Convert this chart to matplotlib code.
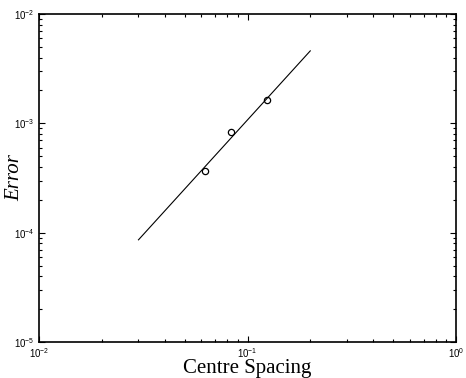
import matplotlib
matplotlib.use("Agg")
import matplotlib.pyplot as plt
import numpy as np
from matplotlib.ticker import LogLocator, FuncFormatter

# measured errors against centre spacing
SPACING = [0.0625, 0.0834, 0.1245]
ERROR = [3.7e-4, 8.3e-4, 1.64e-3]

# second-order reference line
FIT_X = [0.03, 0.2]
FIT_Y = [8.6e-5, 4.6e-3]

plt.rcParams.update({
    'mathtext.fontset': 'custom',
    'mathtext.rm': 'Liberation Sans',
    'mathtext.it': 'Liberation Sans:italic',
    'font.family': 'Liberation Sans',
})

fig = plt.figure(figsize=(4.66, 3.78), dpi=100)
ax = fig.add_axes([39 / 466, 36 / 378, 417 / 466, 328 / 378])

ax.plot(FIT_X, FIT_Y, c='k', lw=0.8)
ax.plot(SPACING, ERROR, 'o', mfc='none', mec='k', ms=4.5, mew=0.9)

ax.set_xscale('log')
ax.set_yscale('log')
ax.set_xlim(1e-2, 1e0)
ax.set_ylim(1e-5, 1e-2)

ax.xaxis.set_major_locator(LogLocator(base=10, numticks=5))
ax.yaxis.set_major_locator(LogLocator(base=10, numticks=6))
ax.xaxis.set_minor_locator(LogLocator(base=10, subs=np.arange(2, 10), numticks=20))
ax.yaxis.set_minor_locator(LogLocator(base=10, subs=np.arange(2, 10), numticks=20))

fmt = FuncFormatter(lambda v, p: r'$10^{%d}$' % round(np.log10(v)))
ax.xaxis.set_major_formatter(fmt)
ax.yaxis.set_major_formatter(fmt)

ax.tick_params(which='both', direction='in', top=True, right=True, width=0.8,
               labelsize=7, colors='k')
ax.tick_params(which='major', length=4)
ax.tick_params(which='minor', length=2)
ax.tick_params(axis='x', pad=3)
ax.tick_params(axis='y', pad=3)
for s in ax.spines.values():
    s.set_linewidth(1.2)

ax.set_xlabel('Centre Spacing', family='Liberation Serif', fontsize=15)
ax.set_ylabel('Error', family='Liberation Serif', style='italic', fontsize=15)
ax.xaxis.set_label_coords(0.5, -0.051)
ax.yaxis.set_label_coords(-0.036, 0.5)

fig.savefig('out.png', dpi=100)
